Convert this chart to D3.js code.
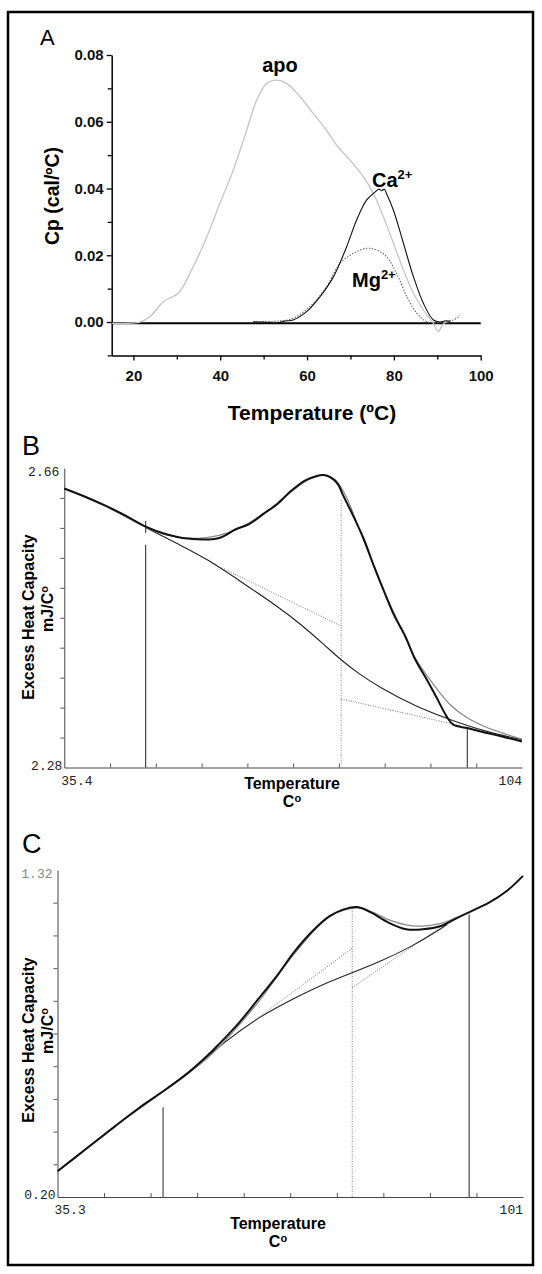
<!DOCTYPE html>
<html><head><meta charset="utf-8">
<script src="https://cdn.jsdelivr.net/npm/d3@7"></script>
<style>
body{margin:0;background:#fff}
svg{display:block}
text{font-family:"Liberation Sans",Arial,sans-serif}
.mono{font-family:"Liberation Mono","DejaVu Sans Mono",monospace}
</style>
</head><body>
<svg id="fig" width="542" height="1274"></svg>
<script>
// ---------- Panel A data ----------
const aTicksX = [20, 40, 60, 80, 100];
const aMinorX = [30, 50, 70, 90];
const aTicksY = [0, 0.02, 0.04, 0.06, 0.08];
const aMinorY = [-0.01, 0.01, 0.03, 0.05, 0.07];
const apoCurve = [[15,-0.0004],[18,-0.0004],[21.5,0],[23.8,0.0016],[26.9,0.0061],[30.3,0.0086],[33.4,0.0156],[36.9,0.0255],[39.9,0.0355],[43,0.0455],[46.1,0.0575],[48.4,0.0665],[50.7,0.0715],[53,0.0725],[55.3,0.0715],[58.4,0.0675],[61.4,0.0625],[64.5,0.0575],[66.8,0.053],[69.9,0.0485],[73,0.0435],[75.3,0.0385],[77.6,0.0315],[79.9,0.0236],[82.2,0.0156],[84.5,0.0086],[86.8,0.0036],[89.1,-0.0004],[90.2,-0.0029],[91.4,-0.0005],[93,0.0004]];
const caCurve = [[47.6,0.0001],[50,0],[53,-0.0003],[55,0.0003],[56.8,0.0006],[59.9,0.0031],[63,0.0076],[66.1,0.0136],[69.1,0.0225],[71.4,0.0305],[73.7,0.0365],[75.7,0.039],[76.5,0.0398],[77.2,0.0394],[77.8,0.0398],[78.3,0.0385],[79.9,0.0335],[82.2,0.0236],[84.5,0.0136],[86.8,0.0056],[89.1,0.0006],[90.6,0],[92,0.0004],[93,0.0002]];
const mgCurve = [[47.6,0],[52,0.0002],[56.8,0.0011],[61.4,0.0056],[64.5,0.0106],[67.6,0.0176],[70.7,0.0206],[73.7,0.0221],[76,0.0216],[78.3,0.0196],[80.6,0.0146],[83,0.0076],[85.3,0.0026],[87.6,0.0001],[90.6,-0.0001],[93.7,0.0006],[95.2,0.002]];

// ---------- Panel B data ----------
const bDomainX = [35.4, 104];
const bDomainY = [2.28, 2.66];
const bData = [[35.4,2.634],[38.8,2.6226],[41.4,2.6128],[44,2.6022],[47.6,2.5857],[50.7,2.576],[53.8,2.5705],[58.5,2.5709],[61.1,2.5823],[63.1,2.5887],[65.2,2.6014],[67.3,2.6141],[69.4,2.631],[71.4,2.6438],[73,2.6493],[74.3,2.651],[75.3,2.648],[76.4,2.6396],[77.1,2.6268],[78.7,2.5993],[80.3,2.5696],[81.8,2.5357],[83.4,2.5018],[84.9,2.472],[86.5,2.4466],[88,2.417],[89.6,2.3936],[91.1,2.3703],[92.7,2.3449],[93.7,2.3343],[95.8,2.33],[98.4,2.3245],[101,2.3194],[104,2.313]];
const bFit = [[35.4,2.634],[41.4,2.612],[47.6,2.585],[50.7,2.575],[54,2.571],[57,2.572],[60,2.578],[63,2.590],[66,2.607],[69,2.627],[72,2.645],[74.3,2.651],[76,2.645],[77.5,2.626],[80,2.574],[83,2.51],[86,2.455],[88,2.419],[90.6,2.387],[93.2,2.36],[95.8,2.343],[98.4,2.332],[101,2.324],[104,2.316]];
const bBase = [[47.6,2.5846],[52.8,2.562],[56.9,2.5442],[62.1,2.5145],[67.3,2.4848],[70.9,2.4615],[74.6,2.4339],[76.9,2.4161],[79.7,2.3979],[82.8,2.3809],[88,2.3576],[93.2,2.3406],[98.4,2.3258],[104,2.3152]];
const bPre = [[59,2.5336],[76.9,2.4594]];
const bPost = [[76.9,2.367],[94.8,2.333]];
const bDrops = [[47.6,2.28,2.5625],[47.6,2.5777,2.5929],[95.8,2.28,2.33]];
const bDotDrop = [76.9, 2.285, 2.6205];
const bTickLabels = ["2.66", "2.28", "35.4", "104"];

// ---------- Panel C data ----------
const cDomainX = [35.3, 101];
const cDomainY = [0.20, 1.32];
const cData = [[35.3,0.288],[39.5,0.368],[43.4,0.442],[46.8,0.505],[50.2,0.562],[53.7,0.625],[57.1,0.6995],[60.5,0.785],[63.4,0.871],[66.4,0.962],[68.8,1.042],[71.3,1.111],[73.7,1.162],[75.7,1.185],[77.6,1.193],[79.6,1.174],[82,1.14],[84.5,1.117],[86.9,1.117],[89.4,1.128],[91.8,1.157],[93.8,1.18],[96.2,1.208],[98.7,1.248],[101,1.3]];
const cFit = [[35.3,0.288],[43.4,0.442],[50.2,0.56],[57.1,0.69],[63.4,0.86],[68.8,1.035],[73.7,1.16],[77.6,1.19],[79.6,1.178],[82,1.15],[84.5,1.132],[86.9,1.128],[89.4,1.137],[91.8,1.16]];
const cBase = [[50.2,0.562],[54.6,0.642],[59,0.734],[63.9,0.82],[69.3,0.888],[72.7,0.928],[76.9,0.968],[81,1.008],[85,1.054],[88.9,1.111],[90.3,1.134]];
const cPre = [[56.6,0.688],[76.9,1.052]];
const cPost = [[76.9,0.917],[90.3,1.14]];
const cDrops = [[50.2,0.20,0.507],[93.4,0.20,1.168]];
const cDotDrop = [76.9, 0.20, 1.189];
const cTickLabels = ["1.32", "0.20", "35.3", "101"];

const svg = d3.select("#fig");

// outer frame
svg.append("rect").attr("x", 8).attr("y", 12).attr("width", 525).attr("height", 1253)
  .attr("fill", "none").attr("stroke", "#000").attr("stroke-width", 2.5);

// ================= Panel A =================
(function () {
  const x = d3.scaleLinear().domain([15, 100]).range([111.7, 480.7]);
  const y = d3.scaleLinear().domain([-0.01, 0.08]).range([355.4, 55]);
  const g = svg.append("g");
  const line = d3.line().x(d => x(d[0])).y(d => y(d[1])).curve(d3.curveCatmullRom.alpha(0.5));

  const ax = g.append("g").attr("transform", `translate(0,${y(-0.01)})`)
    .call(d3.axisBottom(x).tickValues(aTicksX).tickSize(5).tickSizeOuter(0).tickFormat(d3.format("d")));
  g.append("g").attr("transform", `translate(0,${y(-0.01)})`)
    .call(d3.axisBottom(x).tickValues(aMinorX).tickSize(4).tickFormat(""))
    .select(".domain").remove();
  const ay = g.append("g").attr("transform", `translate(${x(15)},0)`)
    .call(d3.axisLeft(y).tickValues(aTicksY).tickSize(5).tickSizeOuter(0).tickFormat(d3.format(".2f")));
  g.append("g").attr("transform", `translate(${x(15)},0)`)
    .call(d3.axisLeft(y).tickValues(aMinorY).tickSize(4).tickFormat(""))
    .select(".domain").remove();
  g.selectAll(".domain").attr("stroke", "#000").attr("stroke-width", 1.5);
  g.selectAll(".tick line").attr("stroke", "#000").attr("stroke-width", 1.3);
  ax.selectAll("text").attr("font-size", 15).attr("font-weight", "bold").attr("fill", "#111")
    .attr("font-family", "Liberation Sans, Arial, sans-serif").attr("dy", "1.15em");
  ay.selectAll("text").attr("font-size", 15).attr("font-weight", "bold").attr("fill", "#111")
    .attr("font-family", "Liberation Sans, Arial, sans-serif").attr("x", -8);

  g.append("line").attr("x1", x(15)).attr("x2", x(100)).attr("y1", y(-0.0004)).attr("y2", y(-0.0004))
    .attr("stroke", "#000").attr("stroke-width", 2);

  g.append("path").datum(apoCurve).attr("d", line).attr("fill", "none").attr("stroke", "#c4c4c4").attr("stroke-width", 1.3);
  g.append("path").datum(mgCurve).attr("d", line).attr("fill", "none").attr("stroke", "#666").attr("stroke-width", 1.1).attr("stroke-dasharray", "1.5,1.5");
  g.append("path").datum(caCurve).attr("d", line).attr("fill", "none").attr("stroke", "#111").attr("stroke-width", 1.1);

  g.append("text").attr("x", 40).attr("y", 45).attr("font-size", 22).text("A");
  g.append("text").attr("x", 280).attr("y", 72).attr("text-anchor", "middle").attr("font-size", 20).attr("font-weight", "bold").text("apo");
  const ca = g.append("text").attr("x", 372).attr("y", 187).attr("font-size", 20).attr("font-weight", "bold");
  ca.append("tspan").text("Ca");
  ca.append("tspan").attr("dy", -8).attr("font-size", 13).text("2+");
  const mg = g.append("text").attr("x", 352).attr("y", 287).attr("font-size", 20).attr("font-weight", "bold");
  mg.append("tspan").text("Mg");
  mg.append("tspan").attr("dy", -8).attr("font-size", 13).text("2+");

  g.append("text").attr("x", 312).attr("y", 420).attr("text-anchor", "middle").attr("font-size", 21).attr("font-weight", "bold").text("Temperature (ºC)");
  g.append("text").attr("transform", "translate(59,196) rotate(-90)").attr("text-anchor", "middle").attr("font-size", 19.5).attr("font-weight", "bold").text("Cp (cal/ºC)");
})();

// ================= Panels B & C =================
function dscPanel(cfg) {
  const x = d3.scaleLinear().domain(cfg.dx).range(cfg.rx);
  const y = d3.scaleLinear().domain(cfg.dy).range(cfg.ry);
  const g = svg.append("g");
  const line = d3.line().x(d => x(d[0])).y(d => y(d[1])).curve(d3.curveCatmullRom.alpha(0.5));
  const smooth = d3.line().x(d => x(d[0])).y(d => y(d[1])).curve(d3.curveBasis);
  const straight = d3.line().x(d => x(d[0])).y(d => y(d[1]));

  const stepX = (cfg.dx[1] - cfg.dx[0]) / 10, stepY = (cfg.dy[1] - cfg.dy[0]) / 10;
  const xt = d3.range(1, 10).map(i => cfg.dx[0] + i * stepX);
  const yt = d3.range(1, 10).map(i => cfg.dy[0] + i * stepY);

  g.append("g").attr("transform", `translate(0,${cfg.ry[0]})`)
    .call(d3.axisBottom(x).tickValues(xt).tickSize(-4).tickSizeOuter(0).tickFormat(""));
  g.append("g").attr("transform", `translate(${cfg.rx[0]},0)`)
    .call(d3.axisLeft(y).tickValues(yt).tickSize(4).tickSizeOuter(0).tickFormat(""));
  g.selectAll(".domain").attr("stroke", "#444").attr("stroke-width", 1);
  g.selectAll(".tick line").attr("stroke", "#555").attr("stroke-width", 1);

  cfg.drops.forEach(d => {
    g.append("line").attr("x1", x(d[0])).attr("x2", x(d[0])).attr("y1", y(d[1])).attr("y2", y(d[2]))
      .attr("stroke", "#222").attr("stroke-width", 1);
  });
  const dd = cfg.dotDrop;
  g.append("line").attr("x1", x(dd[0])).attr("x2", x(dd[0])).attr("y1", y(dd[1])).attr("y2", y(dd[2]))
    .attr("stroke", "#888").attr("stroke-width", 1).attr("stroke-dasharray", "1,1.5");

  g.append("path").datum(cfg.pre).attr("d", straight).attr("fill", "none").attr("stroke", "#777").attr("stroke-width", 1).attr("stroke-dasharray", "1,1.5");
  g.append("path").datum(cfg.post).attr("d", straight).attr("fill", "none").attr("stroke", "#777").attr("stroke-width", 1).attr("stroke-dasharray", "1,1.5");
  g.append("path").datum(cfg.base).attr("d", smooth).attr("fill", "none").attr("stroke", "#222").attr("stroke-width", 1.1);
  g.append("path").datum(cfg.fit).attr("d", line).attr("fill", "none").attr("stroke", "#888").attr("stroke-width", 1.2);
  g.append("path").datum(cfg.data).attr("d", line).attr("fill", "none").attr("stroke", "#111").attr("stroke-width", 2);

  const L = cfg.labels;
  g.append("text").attr("class", "mono").attr("x", cfg.rx[0] - 5).attr("y", cfg.ry[1] + 8).attr("text-anchor", "end")
    .attr("font-size", 13).attr("fill", cfg.topColor).text(L[0]);
  g.append("text").attr("class", "mono").attr("x", cfg.rx[0] - 2).attr("y", cfg.ry[0] + 2).attr("text-anchor", "end")
    .attr("font-size", 13).attr("fill", "#222").text(L[1]);
  g.append("text").attr("class", "mono").attr("x", cfg.rx[0] - 3).attr("y", cfg.ry[0] + 17).attr("text-anchor", "start")
    .attr("font-size", 13).attr("fill", "#222").text(L[2]);
  g.append("text").attr("class", "mono").attr("x", cfg.rx[1]).attr("y", cfg.ry[0] + 17).attr("text-anchor", "end")
    .attr("font-size", 13).attr("fill", "#222").text(L[3]);

  g.append("text").attr("x", cfg.tx).attr("y", cfg.ry[0] + cfg.tdy).attr("text-anchor", "middle")
    .attr("font-size", 16).attr("font-weight", "bold").text("Temperature");
  const c = g.append("text").attr("x", cfg.tx).attr("y", cfg.ry[0] + cfg.tdy + 18).attr("text-anchor", "middle")
    .attr("font-size", 16).attr("font-weight", "bold");
  c.append("tspan").text("C");
  c.append("tspan").attr("dy", -5).attr("font-size", 11).text("o");

  g.append("text").attr("transform", `translate(34,${cfg.yc1}) rotate(-90)`).attr("text-anchor", "middle")
    .attr("font-size", 16).attr("font-weight", "bold").text("Excess Heat Capacity");
  const m = g.append("text").attr("transform", `translate(53,${cfg.yc2}) rotate(-90)`).attr("text-anchor", "middle")
    .attr("font-size", 16).attr("font-weight", "bold");
  m.append("tspan").text("mJ/C");
  m.append("tspan").attr("dy", -5).attr("font-size", 11).text("o");

  g.append("text").attr("x", 22).attr("y", cfg.letterY).attr("font-size", 27).text(cfg.letter);
}

dscPanel({dx: bDomainX, dy: bDomainY, rx: [64.3, 522], ry: [767.5, 468],
  data: bData, fit: bFit, base: bBase, pre: bPre, post: bPost, drops: bDrops, dotDrop: bDotDrop,
  labels: bTickLabels, topColor: "#222", tx: 292, tdy: 21, yc1: 617, yc2: 609, letter: "B", letterY: 455});

dscPanel({dx: cDomainX, dy: cDomainY, rx: [57.5, 523], ry: [1197, 870],
  data: cData, fit: cFit, base: cBase, pre: cPre, post: cPost, drops: cDrops, dotDrop: cDotDrop,
  labels: cTickLabels, topColor: "#888", tx: 278, tdy: 32, yc1: 1040, yc2: 1031, letter: "C", letterY: 853});
</script>
</body></html>
